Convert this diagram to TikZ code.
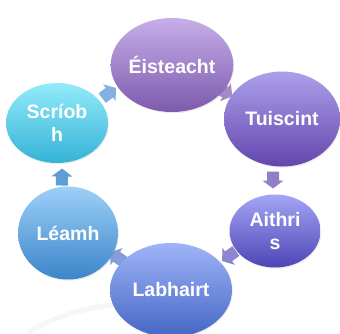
\documentclass[tikz,border=0pt]{standalone}
\usepackage{fontspec}
\setmainfont{Liberation Sans}
\usepackage{xcolor}
\usepackage{tikz}
\usetikzlibrary{shapes.geometric,shadows}

\definecolor{eistoben}{HTML}{C7AEE8}
\definecolor{eistunten}{HTML}{7D5AAE}
\definecolor{tuiscoben}{HTML}{ACA0EA}
\definecolor{tuiscunten}{HTML}{6446AE}
\definecolor{aithroben}{HTML}{A3A6F5}
\definecolor{aithrunten}{HTML}{4E44B5}
\definecolor{labhoben}{HTML}{9FB4F8}
\definecolor{labhunten}{HTML}{4566C4}
\definecolor{leamhoben}{HTML}{9DD0F8}
\definecolor{leamhunten}{HTML}{3A85CA}
\definecolor{scriobhoben}{HTML}{93EBFA}
\definecolor{scriobhunten}{HTML}{34B2D6}

\begin{document}
\begin{tikzpicture}[x=1pt,y=-1pt,
		phase/.style={ellipse, inner sep=0pt, text=white, align=center,
			font=\bfseries\fontsize{19.5}{23}\selectfont,
			drop shadow={opacity=0.15, shadow xshift=0.8pt, shadow yshift=-1.2pt}},
		cyclearrow/.pic={\fill[pic actions] (-8.5,-6) -- (0.5,-6) -- (0.5,-10.5) -- (8.5,0) -- (0.5,10.5) -- (0.5,6) -- (-8.5,6) -- cycle;}]
		% Rahmen
		\fill[white] (0,0) rectangle (340,333);
		\path[use as bounding box, clip] (0,0) rectangle (340,333);

		% Koordinaten
		\coordinate (pa) at (109,93);
		\coordinate (pb) at (225,92);
		\coordinate (pc) at (273,180);
		\coordinate (pd) at (229,256);
		\coordinate (pe) at (117,257);
		\coordinate (pf) at (62,177);

		% Bogen
		\draw[gray!7, line width=5pt] (28,333) .. controls (55,314) and (100,303) .. (150,302);

		% Pfeile
		\pic[fill=cyan!60!blue!50, rotate=37] at (pa) {cyclearrow};
		\pic[fill=eistunten!70, rotate=-31] at (pb) {cyclearrow};
		\pic[fill=tuiscunten!70, rotate=-90] at (pc) {cyclearrow};
		\pic[fill=aithrunten!65, rotate=-144] at (pd) {cyclearrow};
		\pic[fill=labhunten!65, rotate=145] at (pe) {cyclearrow};
		\pic[fill=leamhunten!80, rotate=89] at (pf) {cyclearrow};

		% Ellipsen
		\node[phase, top color=eistoben, bottom color=eistunten,
			minimum width=114pt, minimum height=94pt] (eist) at (172,65) {Éisteacht};
		\node[phase, top color=tuiscoben, bottom color=tuiscunten,
			minimum width=116pt, minimum height=95pt] (tuisc) at (282,119) {Tuiscint};
		\node[phase, top color=aithroben, bottom color=aithrunten,
			minimum width=91pt, minimum height=73pt] (aithr) at (275,231) {Aithri\\s};
		\node[phase, top color=labhoben, bottom color=labhunten,
			minimum width=122pt, minimum height=94pt] (labh) at (171,290) {Labhairt};
		\node[phase, top color=leamhoben, bottom color=leamhunten,
			minimum width=100pt, minimum height=93pt] (leamh) at (68,233) {Léamh};
		\node[phase, top color=scriobhoben, bottom color=scriobhunten,
			minimum width=102pt, minimum height=80pt] (scriobh) at (57,123) {Scríob\\h};
	\end{tikzpicture}
\end{document}
